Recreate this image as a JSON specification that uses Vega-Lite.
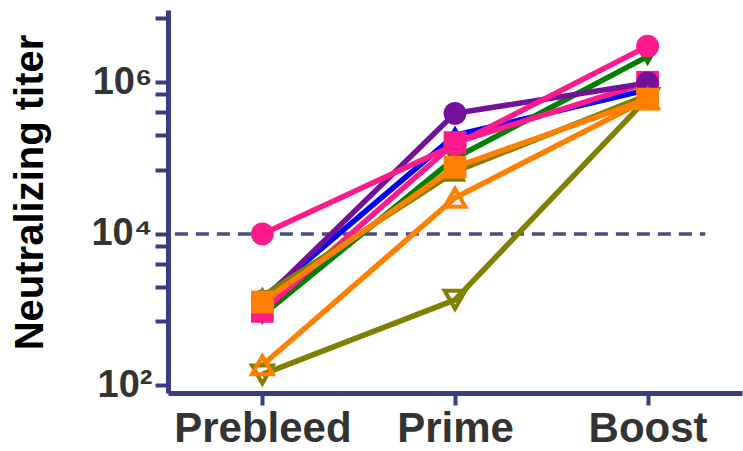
{
  "$schema": "https://vega.github.io/schema/vega-lite/v6.json",
  "autosize": "none",
  "width": 574,
  "height": 383,
  "padding": {"left": 168, "top": 10, "right": 1, "bottom": 58},
  "background": "white",
  "config": {"view": {"stroke": null}},
  "data": {"values": [
    {"series": "I", "time": "Prebleed", "titer": 140},
    {"series": "I", "time": "Prime", "titer": 1350},
    {"series": "I", "time": "Boost", "titer": 620000},
    {"series": "H", "time": "Prebleed", "titer": 185},
    {"series": "H", "time": "Prime", "titer": 30000},
    {"series": "H", "time": "Boost", "titer": 600000},
    {"series": "C", "time": "Prebleed", "titer": 1400},
    {"series": "C", "time": "Prime", "titer": 200000},
    {"series": "C", "time": "Boost", "titer": 800000},
    {"series": "D", "time": "Prebleed", "titer": 850},
    {"series": "D", "time": "Prime", "titer": 100000},
    {"series": "D", "time": "Boost", "titer": 2200000},
    {"series": "E", "time": "Prebleed", "titer": 950},
    {"series": "E", "time": "Prime", "titer": 160000},
    {"series": "E", "time": "Boost", "titer": 1000000},
    {"series": "B", "time": "Prebleed", "titer": 1300},
    {"series": "B", "time": "Prime", "titer": 390000},
    {"series": "B", "time": "Boost", "titer": 980000},
    {"series": "G", "time": "Prebleed", "titer": 1500},
    {"series": "G", "time": "Prime", "titer": 66000},
    {"series": "G", "time": "Boost", "titer": 680000},
    {"series": "A", "time": "Prebleed", "titer": 10000},
    {"series": "A", "time": "Prime", "titer": 150000},
    {"series": "A", "time": "Boost", "titer": 3000000},
    {"series": "F", "time": "Prebleed", "titer": 1260},
    {"series": "F", "time": "Prime", "titer": 76000},
    {"series": "F", "time": "Boost", "titer": 600000}
  ]},
  "resolve": {"scale": {"x": "independent"}, "axis": {"x": "independent"}},
  "layer": [
    {
      "data": {"values": [{"titer": 10000, "start": 0.012, "end": 0.936}]},
      "mark": {"type": "rule", "color": "#4B4B7C", "strokeWidth": 3.5, "strokeDash": [13, 8]},
      "encoding": {
        "x": {"field": "start", "type": "quantitative", "scale": {"domain": [0, 1], "nice": false}, "axis": null},
        "x2": {"field": "end"},
        "y": {
          "field": "titer", "type": "quantitative",
          "scale": {"type": "log", "domain": [79.6, 9000000], "nice": false, "zero": false},
          "axis": {
            "title": "Neutralizing titer",
            "titleFont": "Liberation Sans", "titleFontSize": 40, "titleFontWeight": "bold",
            "titleColor": "#000000", "titleX": -118, "titleY": 182, "titleBaseline": "bottom",
            "values": [100, 700, 2000, 4000, 7000, 10000, 70000, 200000, 400000, 700000, 1000000, 7000000],
            "labelExpr": "datum.value == 100 ? '10²' : datum.value == 10000 ? '10⁴' : datum.value == 1000000 ? '10⁶' : ''",
            "labelOverlap": false, "labelFlush": false,
            "labelFont": "Liberation Sans", "labelFontSize": 38, "labelFontWeight": "bold",
            "labelColor": "#333333", "labelPadding": 3,
            "grid": false,
            "domainColor": "#3A3C82", "domainWidth": 5,
            "tickColor": "#3A3C82", "tickWidth": 4, "tickSize": 13
          }
        }
      }
    },
    {
      "encoding": {
        "x": {
          "field": "time", "type": "nominal",
          "sort": ["Prebleed", "Prime", "Boost"],
          "scale": {"type": "point", "padding": 0.49},
          "axis": {
            "title": null, "labelAngle": 0,
            "labelFont": "Liberation Sans", "labelFontSize": 42, "labelFontWeight": "bold",
            "labelColor": "#333333", "labelPadding": 3,
            "domainColor": "#3A3C82", "domainWidth": 5,
            "tickColor": "#3A3C82", "tickWidth": 4, "tickSize": 12
          }
        },
        "y": {
          "field": "titer", "type": "quantitative",
          "scale": {"type": "log", "domain": [79.6, 9000000], "nice": false, "zero": false},
          "axis": {
            "title": "Neutralizing titer",
            "titleFont": "Liberation Sans", "titleFontSize": 40, "titleFontWeight": "bold",
            "titleColor": "#000000", "titleX": -118, "titleY": 182, "titleBaseline": "bottom",
            "values": [100, 700, 2000, 4000, 7000, 10000, 70000, 200000, 400000, 700000, 1000000, 7000000],
            "labelExpr": "datum.value == 100 ? '10²' : datum.value == 10000 ? '10⁴' : datum.value == 1000000 ? '10⁶' : ''",
            "labelOverlap": false, "labelFlush": false,
            "labelFont": "Liberation Sans", "labelFontSize": 38, "labelFontWeight": "bold",
            "labelColor": "#333333", "labelPadding": 3,
            "grid": false,
            "domainColor": "#3A3C82", "domainWidth": 5,
            "tickColor": "#3A3C82", "tickWidth": 4, "tickSize": 13
          }
        }
      },
      "layer": [
        {
          "mark": {"type": "line", "strokeWidth": 5.5},
          "encoding": {
            "color": {
              "field": "series", "type": "nominal", "legend": null,
              "scale": {
                "domain": ["A", "B", "C", "D", "E", "F", "G", "H", "I"],
                "range": ["#FF1A8C", "#74119A", "#0000FF", "#008000", "#FF1A8C", "#FF8000", "#808000", "#FF8000", "#808000"]
              }
            },
            "detail": {"field": "series"}
          }
        },
        {
          "transform": [{"filter": "datum.series == 'H' || datum.series == 'I'"}],
          "mark": {"type": "point", "filled": false, "opacity": 1, "size": 430, "strokeWidth": 4},
          "encoding": {
            "color": {
              "field": "series", "type": "nominal", "legend": null,
              "scale": {
                "domain": ["A", "B", "C", "D", "E", "F", "G", "H", "I"],
                "range": ["#FF1A8C", "#74119A", "#0000FF", "#008000", "#FF1A8C", "#FF8000", "#808000", "#FF8000", "#808000"]
              }
            },
            "shape": {
              "field": "series", "type": "nominal", "legend": null,
              "scale": {
                "domain": ["A", "B", "C", "D", "E", "F", "G", "H", "I"],
                "range": ["circle", "circle", "triangle-up", "triangle-down", "square", "square", "triangle-up", "triangle-up", "triangle-down"]
              }
            }
          }
        },
        {
          "transform": [{"filter": "datum.series != 'H' && datum.series != 'I'"}],
          "mark": {"type": "point", "filled": true, "opacity": 1, "size": 520},
          "encoding": {
            "color": {
              "field": "series", "type": "nominal", "legend": null,
              "scale": {
                "domain": ["A", "B", "C", "D", "E", "F", "G", "H", "I"],
                "range": ["#FF1A8C", "#74119A", "#0000FF", "#008000", "#FF1A8C", "#FF8000", "#808000", "#FF8000", "#808000"]
              }
            },
            "shape": {
              "field": "series", "type": "nominal", "legend": null,
              "scale": {
                "domain": ["A", "B", "C", "D", "E", "F", "G", "H", "I"],
                "range": ["circle", "circle", "triangle-up", "triangle-down", "square", "square", "triangle-up", "triangle-up", "triangle-down"]
              }
            }
          }
        }
      ]
    }
  ]
}
